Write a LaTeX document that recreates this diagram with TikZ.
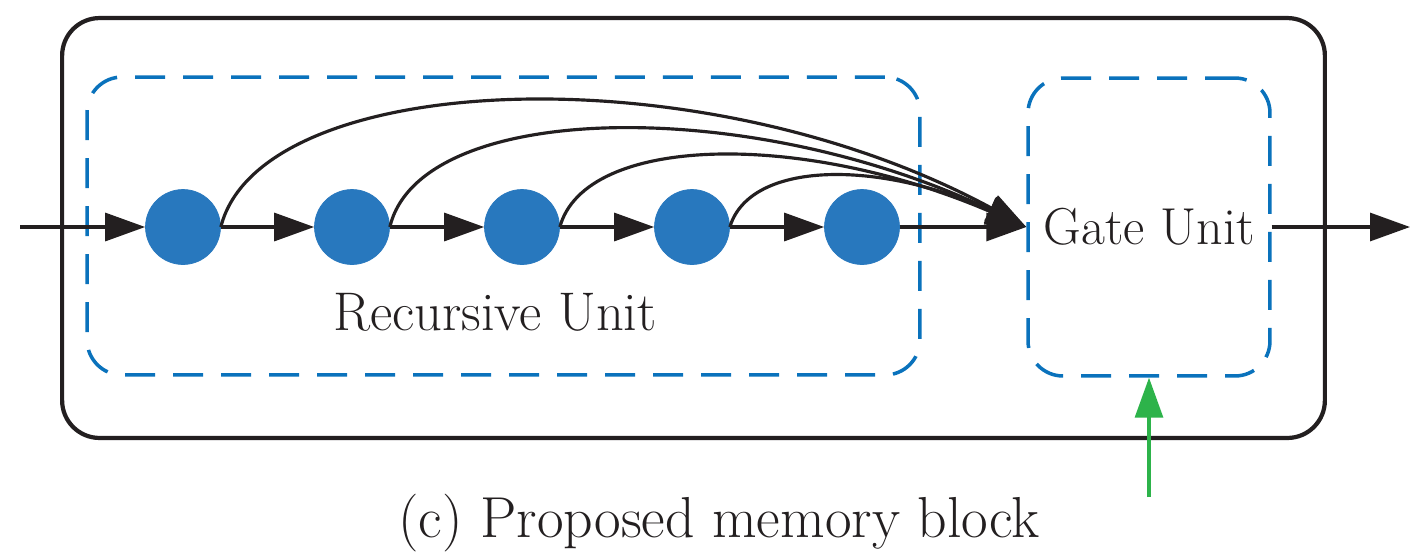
\documentclass[tikz,border=0pt]{standalone}
\usetikzlibrary{arrows.meta}
\definecolor{nodeblue}{HTML}{2878BE}
\definecolor{dashblue}{HTML}{0A72BC}
\definecolor{arrowgreen}{HTML}{2DB34A}
\definecolor{ink}{HTML}{231F20}
\begin{document}
\begin{tikzpicture}[x=0.02cm,y=-0.02cm,
  unit/.style={draw=nodeblue, fill=nodeblue, circle, minimum size=1.5cm, inner sep=0pt},
  dashbox/.style={draw=dashblue, line width=2pt, dash pattern=on 0.6cm off 0.36cm, rounded corners=0.7cm, inner sep=0pt},
  outerbox/.style={draw=ink, line width=2.4pt, rounded corners=0.75cm, inner sep=0pt},
  flow/.style={draw=ink, line width=1.8pt, -{Triangle[length=0.8cm,width=0.56cm]}},
  gflow/.style={draw=arrowgreen, line width=1.8pt, -{Triangle[length=0.8cm,width=0.56cm]}},
  lab/.style={text=ink, inner sep=0pt},
  captext/.style={font=\fontsize{32.9}{39}\selectfont, text=ink, inner sep=0pt}]
\useasboundingbox (0,0) rectangle (1427,559);
\fill[white] (0,0) rectangle (1427,559);
% boxes
\node[outerbox, minimum width=25.26cm, minimum height=8.4cm] (outer) at (693.5,228) {};
\node[dashbox, minimum width=16.66cm, minimum height=5.96cm] (rec) at (503.5,226) {};
\node[dashbox, minimum width=4.84cm, minimum height=5.96cm, lab, font=\fontsize{29.6}{35}\selectfont] (gate) at (1149,227) {Gate Unit};
\node[lab, font=\fontsize{31}{37}\selectfont] (reclab) at (495,312) {Recursive Unit};
% units
\node[unit] (c1) at (183,227) {};
\node[unit] (c2) at (352,227) {};
\node[unit] (c3) at (522,227) {};
\node[unit] (c4) at (692,227) {};
\node[unit] (c5) at (862,227) {};
% connectors
\coordinate (in) at (20,227);
\coordinate (out) at (1410,227);
\coordinate (gin) at (1149,497);
\draw[flow] (in) -- (c1);
\draw[flow] (c1) -- (c2);
\draw[flow] (c2) -- (c3);
\draw[flow] (c3) -- (c4);
\draw[flow] (c4) -- (c5);
\draw[flow] (c5) -- (gate.west);
\draw[flow] (c1.east) .. controls (260,70) and (700,50) .. (gate.west);
\draw[flow] (c2.east) .. controls (420,100) and (750,95) .. (gate.west);
\draw[flow] (c3.east) .. controls (585,135) and (800,130) .. (gate.west);
\draw[flow] (c4.east) .. controls (750,160) and (880,160) .. (gate.west);
\draw[flow] (gate.east) -- (out);
\draw[gflow] (gin) -- (gate.south);
% caption
\node[captext] (caption) at (719,523) {(c) Proposed memory block};
\end{tikzpicture}
\end{document}
